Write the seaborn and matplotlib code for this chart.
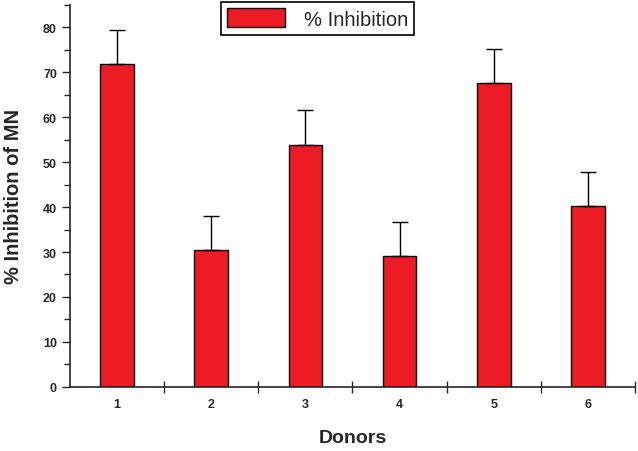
import numpy as np
import pandas as pd
import matplotlib
matplotlib.use("Agg")
import matplotlib.pyplot as plt
from matplotlib.ticker import MultipleLocator, FixedLocator
import seaborn as sns

donors = ["1", "2", "3", "4", "5", "6"]
inhibition = [71.8, 30.5, 53.8, 29.1, 67.6, 40.2]
sem = [7.5, 7.6, 7.8, 7.5, 7.6, 7.5]

df = pd.DataFrame({"Donors": donors, "Inhibition": inhibition})

sns.set_style("ticks")
plt.rcParams['font.family'] = ['Liberation Sans', 'DejaVu Sans']

fig = plt.figure(figsize=(6.38, 4.52), dpi=100)
ax = fig.add_axes([0.110, 0.142, 0.885, 0.845])

bar_red = "#ED1C24"
sns.barplot(data=df, x="Donors", y="Inhibition", color=bar_red, width=0.36,
            edgecolor="black", linewidth=1.0, saturation=1, ax=ax,
            label="% Inhibition")

# only upward error bars
xpos = np.arange(len(donors))
ax.errorbar(xpos, inhibition, yerr=[np.zeros(len(sem)), sem], fmt="none",
            ecolor="black", elinewidth=1.0, capsize=6, capthick=1.0)

ax.set_xlim(-0.5, len(donors) - 0.5)
ax.set_ylim(0, 85)
ax.yaxis.set_major_locator(MultipleLocator(10))
ax.yaxis.set_minor_locator(MultipleLocator(5))
ax.set_yticks(np.arange(0, 81, 10))
ax.xaxis.set_minor_locator(FixedLocator(np.arange(0.5, len(donors), 1.0)))

ax.tick_params(axis="y", which="major", direction="out", length=6, width=1,
               labelsize=9)
ax.tick_params(axis="y", which="minor", direction="out", length=4, width=1)
ax.tick_params(axis="x", which="major", length=0, labelsize=9, pad=8)
ax.tick_params(axis="x", which="minor", direction="inout", length=8, width=1)
for lab in ax.get_xticklabels() + ax.get_yticklabels():
    lab.set_fontweight("bold")

for side in ["top", "right"]:
    ax.spines[side].set_visible(False)
for side in ["left", "bottom"]:
    ax.spines[side].set_linewidth(1.2)

ax.set_xlabel("Donors", fontsize=14, fontweight="bold", labelpad=14)
ax.set_ylabel("% Inhibition of MN", fontsize=14.5, fontweight="bold", labelpad=14)

leg = ax.legend(loc="upper left", bbox_to_anchor=(221 / 638, 1 - 3 / 452),
                bbox_transform=fig.transFigure, fontsize=14.5, frameon=True,
                fancybox=False, edgecolor="black", handlelength=2.9,
                handleheight=1.1, borderpad=0.3, handletextpad=0.9,
                borderaxespad=0)
leg.get_frame().set_linewidth(1.2)
leg.get_frame().set_alpha(1)

fig.savefig("out.png", dpi=100)
